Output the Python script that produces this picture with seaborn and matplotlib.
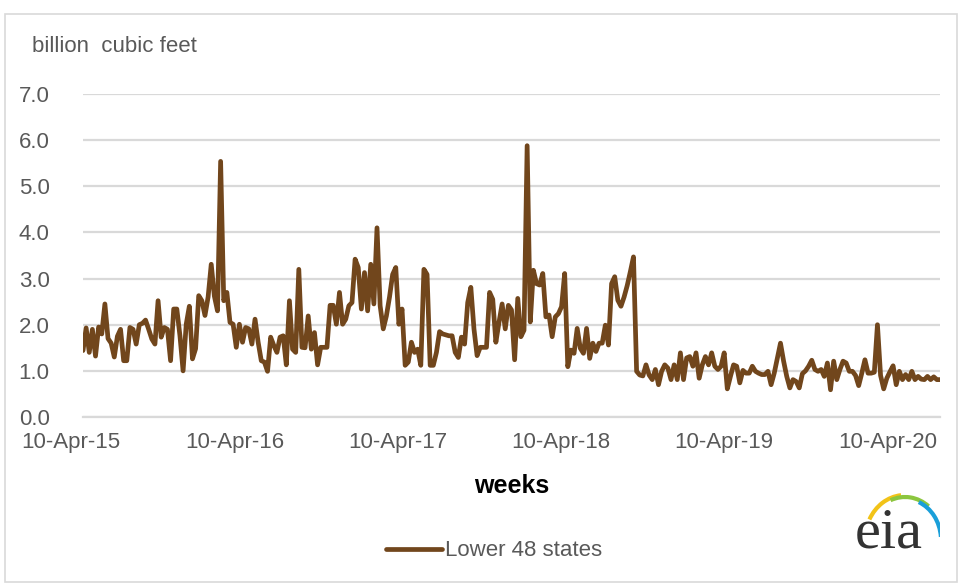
import matplotlib
matplotlib.use('Agg')
import matplotlib.pyplot as plt
import matplotlib.dates as mdates
from matplotlib.patches import Rectangle, Arc
from matplotlib.lines import Line2D
from matplotlib.transforms import ScaledTranslation
import seaborn as sns
import pandas as pd

# weekly values, billion cubic feet, starting 10-Apr-2015
wk_apr15_feb16 = [1.44, 1.93, 1.40, 1.90, 1.32, 1.95, 1.80, 2.45, 1.70, 1.60,
                  1.30, 1.75, 1.90, 1.22, 1.22, 1.94, 1.90, 1.58, 2.00, 2.03,
                  2.10, 1.90, 1.69, 1.58, 2.52, 1.73, 1.94, 1.90, 1.22, 2.34,
                  2.34, 1.76, 1.00, 2.01, 2.40, 1.26, 1.48, 2.63, 2.52, 2.20,
                  2.60, 3.31, 2.62, 2.30, 5.54]
wk_feb16_jan17 = [2.52, 2.70, 2.05, 2.01, 1.51, 2.01, 1.62, 1.94, 1.91, 1.58,
                  2.12, 1.62, 1.22, 1.19, 0.99, 1.73, 1.55, 1.40, 1.73, 1.76,
                  1.13, 2.52, 1.47, 1.40, 3.20, 1.51, 1.50, 2.19, 1.47, 1.83,
                  1.13, 1.51, 1.51, 1.51, 2.42, 2.42, 2.01, 2.70, 2.01, 2.12,
                  2.41, 2.48, 3.42, 3.24, 2.34]
wk_jan17_dec17 = [3.13, 2.30, 3.31, 2.45, 4.10, 2.41, 1.91, 2.19, 2.60, 3.09,
                  3.24, 2.01, 2.34, 1.12, 1.19, 1.62, 1.40, 1.47, 1.12, 3.20,
                  3.09, 1.12, 1.12, 1.40, 1.85, 1.80, 1.78, 1.76, 1.76, 1.40,
                  1.29, 1.73, 1.58, 2.48, 2.81, 1.91, 1.33, 1.51, 1.51, 1.51,
                  2.70, 2.55, 1.62, 2.05, 2.45, 1.91]
wk_dec17_oct18 = [2.42, 2.32, 1.24, 2.57, 1.74, 1.88, 5.88, 2.06, 3.18, 2.89,
                  2.86, 3.11, 2.17, 2.21, 1.74, 2.17, 2.24, 2.39, 3.11, 1.09,
                  1.45, 1.38, 1.92, 1.49, 1.38, 1.92, 1.27, 1.60, 1.42, 1.60,
                  1.60, 1.99, 1.56, 2.89, 3.04, 2.53, 2.40, 2.60, 2.85, 3.15,
                  3.47, 0.99, 0.91, 0.89, 1.13, 0.91, 0.81]
wk_oct18_aug19 = [1.03, 0.70, 0.99, 1.13, 1.06, 0.81, 1.13, 0.81, 1.39, 0.81,
                  1.28, 1.31, 1.10, 1.39, 0.84, 1.13, 1.31, 1.13, 1.39, 1.10,
                  1.03, 1.10, 1.39, 0.61, 0.88, 1.13, 1.10, 0.74, 1.01, 0.95,
                  0.95, 1.10, 0.99, 0.95, 0.92, 0.92, 0.99, 0.70, 0.95, 1.28,
                  1.60, 1.21, 0.88, 0.63, 0.81]
wk_aug19_jul20 = [0.77, 0.63, 0.94, 1.00, 1.10, 1.23, 1.03, 0.99, 1.03, 0.88,
                  1.17, 0.59, 1.21, 0.81, 1.03, 1.21, 1.17, 0.99, 0.99, 0.90,
                  0.68, 0.95, 1.24, 0.95, 0.95, 0.97, 2.00, 0.90, 0.61, 0.84,
                  0.98, 1.11, 0.70, 0.99, 0.81, 0.92, 0.81, 0.99, 0.81, 0.88,
                  0.82, 0.81, 0.88, 0.81, 0.87, 0.81, 0.81]

tick_dates = ['2015-04-10', '2016-04-10', '2017-04-10', '2018-04-10', '2019-04-10', '2020-04-10']
y_ticks = [0, 1, 2, 3, 4, 5, 6, 7]
series_name = 'Lower 48 states'

values = (wk_apr15_feb16 + wk_feb16_jan17 + wk_jan17_dec17 +
          wk_dec17_oct18 + wk_oct18_aug19 + wk_aug19_jul20)
df = pd.DataFrame({'week': pd.date_range('2015-04-10', periods=len(values), freq='7D'),
                   'bcf': values})

sns.set_style('white')
plt.rcParams['font.family'] = ['Liberation Sans', 'DejaVu Sans']

brown = '#71461c'
grid = '#d9d9d9'
txt = '#595959'

fig = plt.figure(figsize=(9.61, 5.83), dpi=100)
W, H = 961, 583
ax = fig.add_axes([83 / W, 1 - 417 / H, (940 - 83) / W, (417 - 94) / H])

sns.lineplot(data=df, x='week', y='bcf', color=brown, lw=3.4, ax=ax, legend=False)

ax.set_ylim(0, 7)
ax.set_xlim(df['week'].iloc[0], df['week'].iloc[-1])
ax.set_yticks(y_ticks)
ax.set_yticklabels([f'{v:.1f}' for v in y_ticks])
ticks = pd.to_datetime(tick_dates)
ax.set_xticks(ticks)
ax.set_xticklabels([d.strftime('%d-%b-%y') for d in ticks])
ax.grid(axis='y', color=grid, lw=1.6)
ax.set_axisbelow(True)
for s in ['top', 'right', 'left']:
    ax.spines[s].set_visible(False)
ax.spines['bottom'].set_color(grid)
ax.spines['bottom'].set_linewidth(1.6)
ax.tick_params(axis='y', length=0, pad=24, labelsize=16, labelcolor=txt)
ax.tick_params(axis='x', length=6, width=1.6, color=grid, pad=5, labelsize=16, labelcolor=txt)
for lbl in ax.get_xticklabels():
    lbl.set_transform(lbl.get_transform() + ScaledTranslation(-0.12, 0, fig.dpi_scale_trans))
ax.set_xlabel('')
ax.set_ylabel('')

fig.text(32 / W, 1 - 46 / H, 'billion  cubic feet', fontsize=16, color=txt, va='center', ha='left')
fig.text(512 / W, 1 - 486 / H, 'weeks', fontsize=18, fontweight='bold', color='black',
         ha='center', va='center')

handle = Line2D([], [], color=brown, lw=3.4)
fig.legend([handle], [series_name], loc='center', bbox_to_anchor=(494 / W, 1 - 551 / H),
           frameon=False, fontsize=16, handlelength=2.5, handletextpad=0.15, labelcolor=txt)

# chart frame
fig.patches.append(Rectangle((5 / W, 0.002), 952 / W, 1 - 14 / H - 0.002, transform=fig.transFigure,
                             fill=False, edgecolor='#d9d9d9', lw=1.2))

# eia logo
fig.text(889 / W, 1 - 534 / H, 'eia', fontsize=42, family='Liberation Serif', color='#333333',
         ha='center', va='center')
lax = fig.add_axes([840 / W, 1 - 565 / H, 100 / W, 80 / H])
lax.set_xlim(0, 100)
lax.set_ylim(0, 80)
lax.axis('off')
lax.add_patch(Arc((65, 25), 80, 90, theta1=95, theta2=150, color='#f2c318', lw=3))
lax.add_patch(Arc((65, 25), 76, 86, theta1=55, theta2=110, color='#8cc63f', lw=3))
lax.add_patch(Arc((65, 25), 72, 82, theta1=5, theta2=70, color='#1a9fd9', lw=3))

fig.savefig('out.png', dpi=100)
